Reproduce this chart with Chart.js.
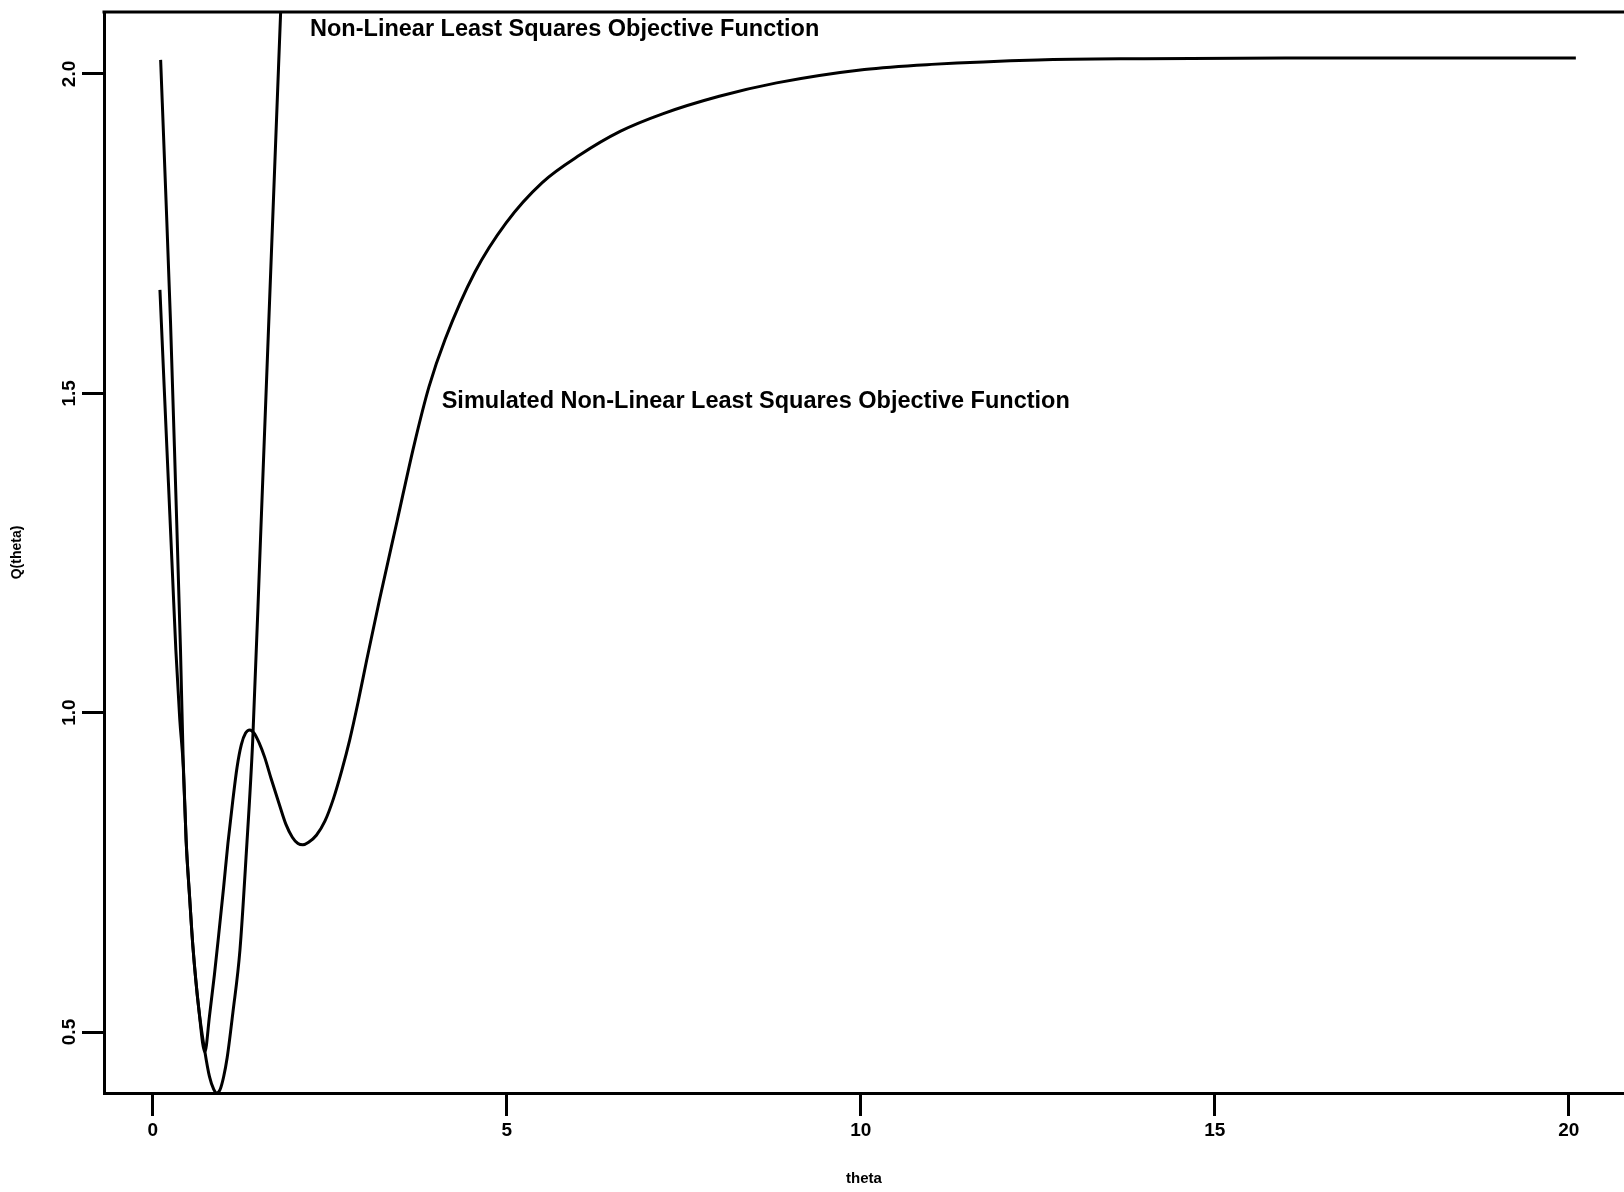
<!DOCTYPE html>
<html>
<head>
<meta charset="utf-8">
<script src="https://cdn.jsdelivr.net/npm/chart.js@4.4.1/dist/chart.umd.min.js"></script>
<style>
  html, body { margin: 0; padding: 0; background: #fff; }
  canvas { display: block; }
</style>
</head>
<body>
<canvas id="chart" width="1624" height="1192"></canvas>
<script>
// theta grid and objective values
const thetaNlls = [0.11, 0.18, 0.25, 0.32, 0.39, 0.43, 0.47, 0.52, 0.565, 0.65, 0.735, 0.80, 0.86, 0.90, 0.95, 1.00, 1.05, 1.13, 1.23, 1.32, 1.41, 1.52, 1.63, 1.73, 1.82, 1.92];
const qNlls     = [2.022, 1.82, 1.61, 1.36, 1.10, 0.92, 0.80, 0.71, 0.635, 0.535, 0.469, 0.43, 0.41, 0.404, 0.41, 0.43, 0.46, 0.53, 0.628, 0.78, 0.955, 1.27, 1.59, 1.88, 2.14, 2.43];

const thetaSim = [0.10, 0.16, 0.22, 0.28, 0.325, 0.38, 0.43, 0.47, 0.52, 0.565, 0.65, 0.735, 0.80, 0.87, 0.93, 1.00, 1.06, 1.13, 1.19, 1.25, 1.31, 1.37, 1.43, 1.50, 1.58, 1.67, 1.79, 1.88, 1.97, 2.05, 2.12, 2.20, 2.31, 2.43, 2.55, 2.67, 2.78, 2.90, 3.02, 3.20, 3.45, 3.69, 3.90, 4.13, 4.55, 4.99, 5.50, 6.03, 6.60, 7.20, 8.00, 8.81, 10.05, 11.0, 12.5, 14.0, 16.0, 18.0, 20.1];
const qSim     = [1.662, 1.51, 1.36, 1.21, 1.098, 0.99, 0.915, 0.80, 0.71, 0.635, 0.535, 0.469, 0.525, 0.59, 0.652, 0.727, 0.795, 0.863, 0.915, 0.950, 0.968, 0.973, 0.968, 0.953, 0.930, 0.897, 0.855, 0.825, 0.805, 0.795, 0.793, 0.797, 0.808, 0.830, 0.865, 0.910, 0.957, 1.017, 1.082, 1.176, 1.30, 1.419, 1.51, 1.585, 1.69, 1.767, 1.83, 1.873, 1.91, 1.9375, 1.965, 1.986, 2.007, 2.015, 2.022, 2.024, 2.025, 2.025, 2.025];

const xTicks = [0, 5, 10, 15, 20];
const yTicks = [0.5, 1.0, 1.5, 2.0];

const curveNames = ["Non-Linear Least Squares Objective Function", "Simulated Non-Linear Least Squares Objective Function"];

const FONT = "'Liberation Sans', Arial, Helvetica, sans-serif";

function toPoints(xs, ys) {
  return xs.map((x, i) => ({ x: x, y: ys[i] }));
}

// top edge of the plot box (the right edge runs off the page)
const topLine = {
  id: 'topLine',
  afterDraw(chart) {
    const { ctx, chartArea } = chart;
    ctx.save();
    ctx.strokeStyle = '#000';
    ctx.lineWidth = 3;
    ctx.beginPath();
    ctx.moveTo(chartArea.left - 1.5, chartArea.top);
    ctx.lineTo(chartArea.right, chartArea.top);
    ctx.stroke();
    ctx.restore();
  }
};

// text() style labels next to the curves
const curveLabels = {
  id: 'curveLabels',
  afterDraw(chart) {
    const { ctx } = chart;
    const x = chart.scales.x, y = chart.scales.y;
    const anchors = [[2.22, 2.069], [4.08, 1.487]];
    ctx.save();
    ctx.fillStyle = '#000';
    ctx.font = 'bold 23.5px ' + FONT;
    ctx.textAlign = 'left';
    ctx.textBaseline = 'middle';
    curveNames.forEach((name, i) => {
      ctx.fillText(name, x.getPixelForValue(anchors[i][0]), y.getPixelForValue(anchors[i][1]));
    });
    ctx.restore();
  }
};

const line = document.getElementById('chart').getContext('2d');

new Chart(line, {
  type: 'scatter',
  data: {
    datasets: [
      {
        label: curveNames[0],
        data: toPoints(thetaNlls, qNlls),
        showLine: true,
        borderColor: '#000',
        borderWidth: 3,
        pointRadius: 0,
        cubicInterpolationMode: 'monotone',
      },
      {
        label: curveNames[1],
        data: toPoints(thetaSim, qSim),
        showLine: true,
        borderColor: '#000',
        borderWidth: 3,
        pointRadius: 0,
        cubicInterpolationMode: 'monotone',
      },
    ],
  },
  plugins: [topLine, curveLabels],
  options: {
    responsive: false,
    animation: false,
    layout: {
      padding: { top: 12, left: 0, right: 0, bottom: 0 },
    },
    plugins: {
      legend: { display: false },
      tooltip: { enabled: false },
    },
    scales: {
      x: {
        type: 'linear',
        min: -0.69,
        max: 20.78,
        afterBuildTicks: (s) => { s.ticks = xTicks.map(v => ({ value: v })); },
        afterFit: (s) => { s.height = 99; },
        grid: {
          drawOnChartArea: false,
          drawTicks: true,
          tickLength: 23,
          tickWidth: 3,
          tickColor: '#000',
        },
        border: { display: true, color: '#000', width: 3 },
        ticks: {
          color: '#000',
          autoSkip: false,
          maxRotation: 0,
          padding: 3,
          font: { family: FONT, size: 19, weight: 'bold' },
          callback: (v) => String(v),
        },
        title: {
          display: true,
          text: 'theta',
          color: '#000',
          font: { family: FONT, size: 15, weight: 'bold' },
          padding: { top: 0, bottom: 4 },
        },
      },
      y: {
        type: 'linear',
        min: 0.4045,
        max: 2.097,
        afterBuildTicks: (s) => { s.ticks = yTicks.map(v => ({ value: v })); },
        afterFit: (s) => { s.width = 104; },
        grid: {
          drawOnChartArea: false,
          drawTicks: true,
          tickLength: 22,
          tickWidth: 3,
          tickColor: '#000',
        },
        border: { display: true, color: '#000', width: 3 },
        ticks: {
          color: '#000',
          autoSkip: false,
          minRotation: 90,
          maxRotation: 90,
          crossAlign: 'center',
          padding: -1,
          font: { family: FONT, size: 19, weight: 'bold' },
          callback: (v) => Number(v).toFixed(1),
        },
        title: {
          display: true,
          text: 'Q(theta)',
          color: '#000',
          font: { family: FONT, size: 14, weight: 'bold' },
          padding: { top: 9, bottom: 0 },
        },
      },
    },
  },
});
</script>
</body>
</html>
